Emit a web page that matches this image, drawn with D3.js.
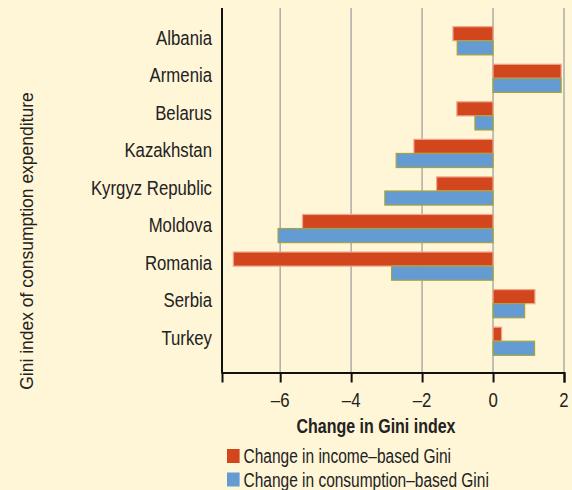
<!DOCTYPE html>
<html>
<head>
<meta charset="utf-8">
<script src="https://cdn.jsdelivr.net/npm/d3@7"></script>
<style>
  html, body { margin: 0; padding: 0; background: #FFF5D7; }
  svg { display: block; }
</style>
</head>
<body>
<svg id="chart" width="572" height="490"></svg>
<script>
// Countries, top to bottom
const countries = ["Albania", "Armenia", "Belarus", "Kazakhstan", "Kyrgyz Republic",
                   "Moldova", "Romania", "Serbia", "Turkey"];
// Change in income-based Gini
const incomeChange = [-1.13, 1.92, -1.02, -2.23, -1.59, -5.37, -7.32, 1.18, 0.24];
// Change in consumption-based Gini
const consumptionChange = [-1.01, 1.92, -0.51, -2.73, -3.05, -6.06, -2.86, 0.89, 1.17];
const xTicks = [-6, -4, -2, 0, 2];
const seriesNames = ["Change in income\u2013based Gini", "Change in consumption\u2013based Gini"];
const seriesColors = ["#D2461E", "#659BD3"];

const sans = "'Liberation Sans', Arial, sans-serif";
const ink = "#222";
const svg = d3.select("#chart");

// condensed-looking text: a regular face squeezed horizontally around its anchor
function squeezed(parent, x, y, str, opts) {
  const t = parent.append("text")
    .attr("transform", `translate(${x},${y}) scale(${opts.sx},1)`)
    .attr("font-family", sans).attr("font-size", opts.size).attr("fill", ink)
    .attr("text-anchor", opts.anchor || "start")
    .text(str);
  if (opts.bold) t.attr("font-weight", "bold");
  return t;
}

const x = d3.scaleLinear().domain([-7.64, 2]).range([222, 564]);
const y = d3.scaleBand().domain(countries).range([22, 360]).paddingInner(0.25).paddingOuter(0.125);
const sub = d3.scaleBand().domain([0, 1]).range([0, y.bandwidth()]);
const plotTop = 8, plotBottom = 372.5;

// vertical gridlines
svg.append("g").selectAll("line").data(xTicks).join("line")
  .attr("x1", d => x(d)).attr("x2", d => x(d))
  .attr("y1", plotTop).attr("y2", plotBottom)
  .attr("stroke", "#B3B1AA").attr("stroke-width", 1.6);

// bars
const rows = countries.map((c, i) => ({c, vals: [incomeChange[i], consumptionChange[i]]}));
const g = svg.append("g");
rows.forEach(r => {
  r.vals.forEach((v, k) => {
    g.append("rect")
      .attr("x", x(Math.min(0, v)))
      .attr("width", Math.abs(x(v) - x(0)))
      .attr("y", y(r.c) + sub(k))
      .attr("height", sub.bandwidth())
      .attr("fill", seriesColors[k])
      .attr("stroke", k === 0 ? "#F2A58C" : "#A4A43E")
      .attr("stroke-width", 1.2);
  });
});

// x axis: line and ticks from d3, labels squeezed
const xAxis = d3.axisBottom(x).tickValues(xTicks).tickSize(10).tickFormat("");
const xg = svg.append("g").attr("transform", `translate(0,${plotBottom})`).call(xAxis);
xg.select(".domain").attr("stroke", "#111").attr("stroke-width", 2);
xg.selectAll(".tick line").attr("stroke", "#111").attr("stroke-width", 2);
xTicks.forEach(d => {
  squeezed(svg, x(d), plotBottom + 34, d < 0 ? "\u2013" + Math.abs(d) : String(d),
           {size: 19.5, sx: 0.86, anchor: "middle"});
});

// y axis (line only) and category labels
svg.append("line").attr("x1", 222).attr("x2", 222).attr("y1", plotTop).attr("y2", plotBottom + 1)
  .attr("stroke", "#111").attr("stroke-width", 2);
countries.forEach(c => {
  squeezed(svg, 212, y(c) + y.bandwidth() / 2 + 3.8, c, {size: 19.5, sx: 0.86, anchor: "end"});
});

// axis titles
squeezed(svg, 376, 433, "Change in Gini index", {size: 19.5, sx: 0.82, anchor: "middle", bold: true});
svg.append("text").attr("transform", "translate(33,241) rotate(-90)")
  .attr("text-anchor", "middle").attr("font-family", sans)
  .attr("font-size", 17.5).attr("fill", ink)
  .text("Gini index of consumption expenditure");

// legend
seriesNames.forEach((name, i) => {
  svg.append("rect").attr("x", 227).attr("y", 449 + i * 23.5).attr("width", 12.6).attr("height", 14)
    .attr("fill", seriesColors[i]);
  squeezed(svg, 243.5, 463 + i * 23.8, name, {size: 20, sx: 0.775});
});
</script>
</body>
</html>
